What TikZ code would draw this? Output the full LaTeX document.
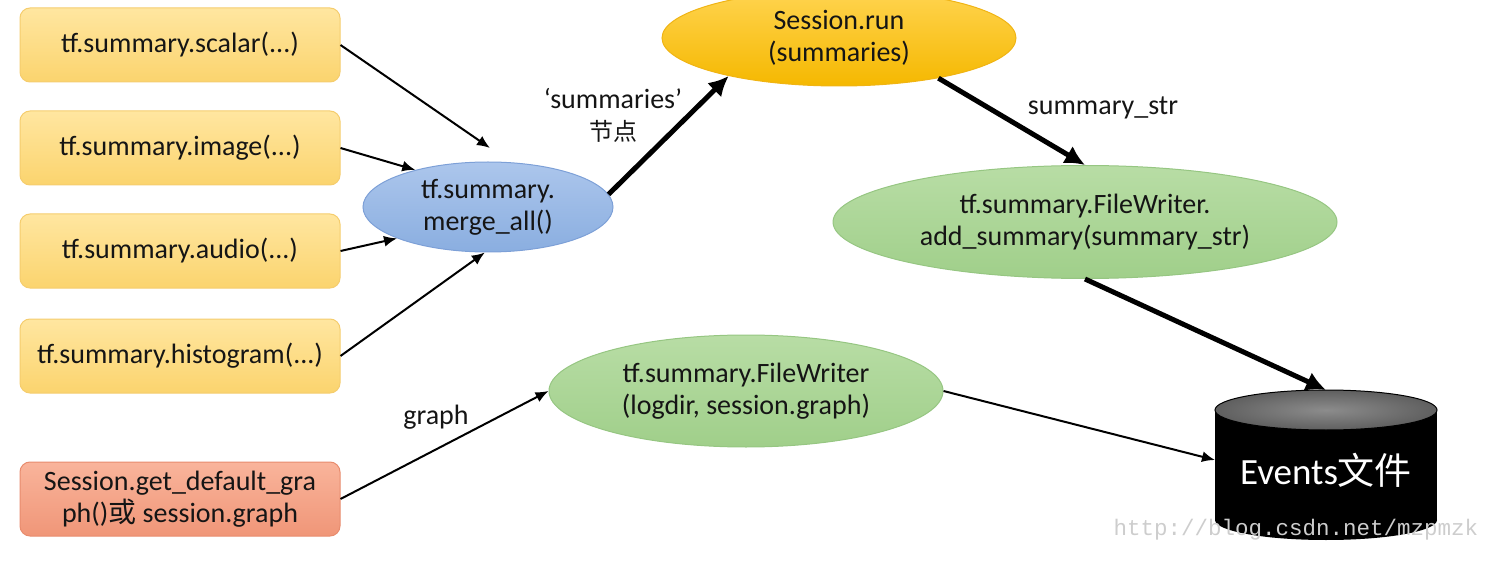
\documentclass[tikz,border=0pt]{standalone}
\usepackage{fontspec}
\setmainfont{Carlito}
\newfontfamily\cjk{Noto Sans CJK SC}
\newfontfamily\wmfont{Liberation Mono}
\usetikzlibrary{shapes.geometric,arrows.meta}
\definecolor{txt}{HTML}{151515}
\begin{document}
\begin{tikzpicture}[x=1pt,y=-1pt,
  font=\fontsize{28}{32}\selectfont, text=txt,
  ybox/.style={rectangle, rounded corners=10pt, minimum width=320pt, minimum height=74pt,
    draw={rgb,255:red,245;green,205;blue,110}, line width=1pt,
    top color={rgb,255:red,255;green,230;blue,160}, bottom color={rgb,255:red,251;green,212;blue,110},
    align=center, inner sep=2pt},
  rbox/.style={ybox, draw={rgb,255:red,232;green,140;blue,110},
    top color={rgb,255:red,249;green,180;blue,155}, bottom color={rgb,255:red,240;green,150;blue,120}},
  blueell/.style={ellipse, inner sep=0pt, align=center, line width=1pt,
    draw={rgb,255:red,125;green,160;blue,215},
    top color={rgb,255:red,172;green,198;blue,236}, bottom color={rgb,255:red,138;green,174;blue,224}},
  goldell/.style={ellipse, inner sep=0pt, align=center, line width=1pt,
    draw={rgb,255:red,240;green,180;blue,20},
    top color={rgb,255:red,255;green,212;blue,80}, bottom color={rgb,255:red,245;green,184;blue,0}},
  greenell/.style={ellipse, inner sep=0pt, align=center, line width=1pt,
    draw={rgb,255:red,150;green,198;blue,130},
    top color={rgb,255:red,184;green,221;blue,165}, bottom color={rgb,255:red,160;green,207;blue,138}},
  thinarr/.style={line width=2pt, -{Latex[length=13pt,width=11pt]}},
  thickarr/.style={line width=5pt, -{Latex[length=20pt,width=20pt]}},
  lbl/.style={inner sep=1pt, align=center}
]
\useasboundingbox (0,0) rectangle (1497,564);

% left boxes
\node[ybox] (scalar) at (180,45) {tf.summary.scalar(...)};
\node[ybox] (image) at (180,148) {tf.summary.image(...)};
\node[ybox] (audio) at (180,251) {tf.summary.audio(...)};
\node[ybox] (hist) at (180,356) {tf.summary.histogram(...)};
\node[rbox] (graphsrc) at (180,499) {Session.get\_default\_gra\\ph(){\cjk 或} session.graph};

% ellipses
\node[blueell, minimum width=250pt, minimum height=90pt] (merge) at (488,207) {tf.summary.\\merge\_all()};
\node[goldell, minimum width=354pt, minimum height=96pt] (run) at (839,38) {Session.run\\(summaries)};
\node[greenell, minimum width=504pt, minimum height=113pt] (add) at (1085,222) {tf.summary.FileWriter.\\add\_summary(summary\_str)};
\node[greenell, minimum width=394pt, minimum height=112pt] (fw) at (746,391) {tf.summary.FileWriter\\(logdir, session.graph)};

% cylinder
\fill[black] (1326,520) ellipse [x radius=111, y radius=20];
\fill[black] (1215,410) rectangle (1437,520);
\draw[black, line width=1pt, inner color={rgb,255:red,140;green,140;blue,140}, outer color={rgb,255:red,95;green,95;blue,95}]
  (1326,410) ellipse [x radius=111, y radius=20];
\node[text=white, font=\fontsize{37}{40}\selectfont, inner sep=0pt] (events) at (1326,470) {Events{\cjk 文件}};
\coordinate (cyltop) at (1326,390);
\coordinate (cylleft) at (1215,460);

% labels
\node[lbl] (summlbl) at (613,115) {‘summaries’\\{\cjk\fontsize{24}{32}\selectfont 节点}};
\node[lbl] (strlbl) at (1103,108) {summary\_str};
\node[lbl] (graphlbl) at (436,417) {graph};
\node[text={rgb,255:red,205;green,205;blue,205}, font=\wmfont\fontsize{22.5}{24}\selectfont, inner sep=0pt] (wm) at (1296,530) {http://blog.csdn.net/mzpmzk};

% connectors
\draw[thinarr] (scalar.east) -- (490,148);
\draw[thinarr] (image.east) -- (merge.153);
\draw[thinarr] (audio.east) -- (merge.199);
\draw[thinarr] (hist.east) -- (merge.266);
\draw[thickarr] (merge.6) -- (run.199);
\draw[thickarr] (run.-22) -- (add.north);
\draw[thickarr] (add.south) -- (cyltop);
\draw[thinarr] (graphsrc.east) -- (fw.west);
\draw[thinarr] (fw.east) -- (cylleft);
\end{tikzpicture}
\end{document}
